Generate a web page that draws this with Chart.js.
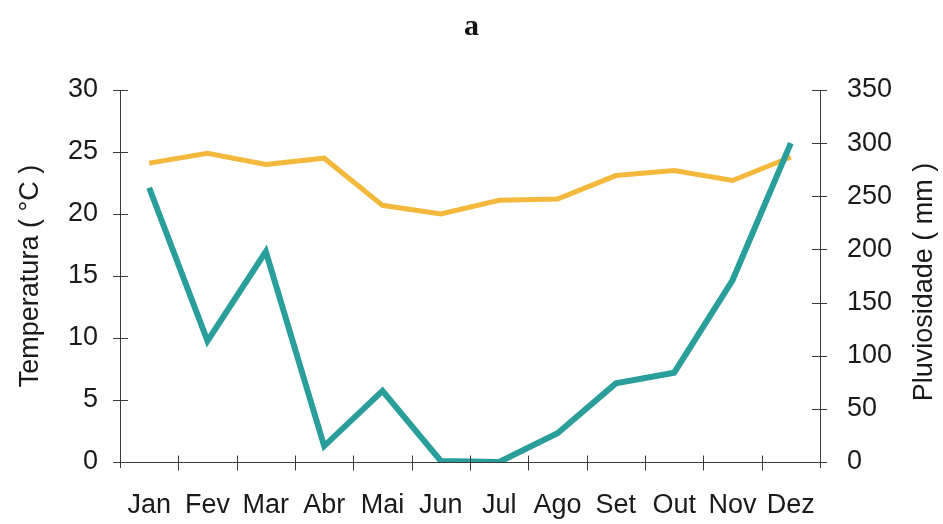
<!DOCTYPE html>
<html>
<head>
<meta charset="utf-8">
<script src="https://cdn.jsdelivr.net/npm/chart.js@4.4.1/dist/chart.umd.min.js"></script>
<style>
  html, body { margin: 0; padding: 0; background: #fff; }
  #wrap { width: 943px; height: 524px; position: relative; }
</style>
</head>
<body>
<div id="wrap"><canvas id="c" width="943" height="524"></canvas></div>
<script>
// Monthly climate data
const months = ['Jan', 'Fev', 'Mar', 'Abr', 'Mai', 'Jun', 'Jul', 'Ago', 'Set', 'Out', 'Nov', 'Dez'];
const temperatura = [24.1, 24.9, 24.0, 24.5, 20.7, 20.0, 21.1, 21.2, 23.1, 23.5, 22.7, 24.6];
const pluviosidade = [258, 114, 198, 15, 67, 1, 0, 27, 74, 84, 171, 300];
const tempTicks = [0, 5, 10, 15, 20, 25, 30];
const rainTicks = [0, 50, 100, 150, 200, 250, 300, 350];

const FONT = "'Liberation Sans', Arial, sans-serif";
const AXIS = '#3a3a3a';
const TEXT = '#1a1a1a';

// Short tick marks crossing each axis line
const crossTicks = {
  id: 'crossTicks',
  afterDraw(chart) {
    const ctx = chart.ctx;
    const { x, y, y2 } = chart.scales;
    ctx.save();
    ctx.strokeStyle = AXIS;
    ctx.lineWidth = 1;
    ctx.beginPath();
    // left axis
    ctx.moveTo(x.left + 0.5, y.top);
    ctx.lineTo(x.left + 0.5, y.bottom + 6);
    y.ticks.forEach((t, i) => {
      const p = Math.round(y.getPixelForTick(i)) + 0.5;
      ctx.moveTo(x.left - 7, p); ctx.lineTo(x.left + 8, p);
    });
    // right axis
    ctx.moveTo(x.right + 0.5, y2.top);
    ctx.lineTo(x.right + 0.5, y2.bottom + 6);
    y2.ticks.forEach((t, i) => {
      const p = Math.round(y2.getPixelForTick(i)) + 0.5;
      ctx.moveTo(x.right - 8, p); ctx.lineTo(x.right + 7, p);
    });
    // category axis
    const yb = Math.round(y.bottom) + 0.5;
    ctx.moveTo(x.left - 4, yb); ctx.lineTo(x.right, yb);
    for (let i = 1; i < months.length; i++) {
      const p = Math.round((x.getPixelForValue(i - 1) + x.getPixelForValue(i)) / 2) + 0.5;
      ctx.moveTo(p, yb - 7); ctx.lineTo(p, yb + 8);
    }
    ctx.stroke();

    // right axis title, reading bottom to top
    ctx.fillStyle = TEXT;
    ctx.font = "27px " + FONT;
    ctx.textAlign = 'center';
    ctx.textBaseline = 'middle';
    ctx.translate(925, (y2.top + y2.bottom) / 2 + 6);
    ctx.rotate(-Math.PI / 2);
    ctx.fillText('Pluviosidade ( mm )', 0, 0);
    ctx.restore();
  }
};

new Chart(document.getElementById('c'), {
  type: 'line',
  data: {
    labels: months,
    datasets: [
      {
        label: 'Temperatura',
        data: temperatura,
        yAxisID: 'y',
        borderColor: '#f4b93c',
        borderWidth: 5,
        pointRadius: 0,
        tension: 0,
        order: 2
      },
      {
        label: 'Pluviosidade',
        data: pluviosidade,
        yAxisID: 'y2',
        borderColor: '#2a9e9b',
        borderWidth: 6,
        pointRadius: 0,
        tension: 0,
        order: 1
      }
    ]
  },
  options: {
    responsive: false,
    animation: false,
    layout: { padding: { top: 0, left: 0, right: 0, bottom: 0 } },
    plugins: {
      legend: { display: false },
      tooltip: { enabled: false },
      title: {
        display: true,
        text: 'a',
        color: '#111',
        font: { family: "'Liberation Serif', 'DejaVu Serif', serif", size: 30, weight: 'bold', lineHeight: 1 },
        padding: { top: 12, bottom: 48 }
      }
    },
    scales: {
      x: {
        offset: true,
        border: { display: false },
        grid: { display: false },
        ticks: {
          color: TEXT,
          font: { family: FONT, size: 27 },
          padding: 19,
          maxRotation: 0,
          autoSkip: false
        },
        afterFit(s) { s.height = 62; }
      },
      y: {
        position: 'left',
        min: 0, max: 30,
        afterBuildTicks(s) { s.ticks = tempTicks.map(v => ({ value: v })); },
        border: { display: false },
        grid: { display: false },
        ticks: { color: TEXT, font: { family: FONT, size: 27 }, padding: 14 },
        title: {
          display: true,
          text: 'Temperatura ( °C )',
          color: TEXT,
          font: { family: FONT, size: 27 },
          padding: { top: 14, bottom: 0 }
        },
        afterFit(s) { s.width = 120; }
      },
      y2: {
        position: 'right',
        min: 0, max: 350,
        afterBuildTicks(s) { s.ticks = rainTicks.map(v => ({ value: v })); },
        border: { display: false },
        grid: { display: false },
        ticks: { color: TEXT, font: { family: FONT, size: 27 }, padding: 19 },
        afterFit(s) { s.width = 123; }
      }
    }
  },
  plugins: [crossTicks]
});
</script>
</body>
</html>
